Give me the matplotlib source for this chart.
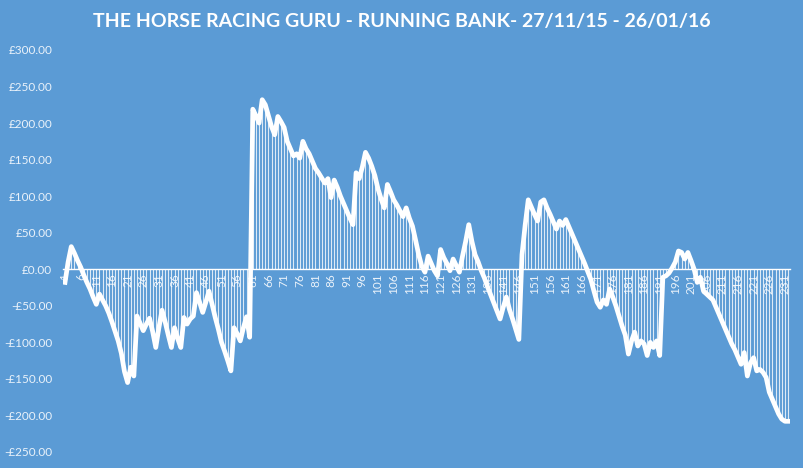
import matplotlib
matplotlib.use("Agg")
import matplotlib.pyplot as plt
import numpy as np

# running bank after each bet (GBP)
bank = [
    -18, 10, 31, 22, 12, 3, -8, -18, -27, -38,
    -48, -34, -42, -50, -60, -72, -85, -98, -115, -140,
    -155, -134, -146, -64, -74, -84, -75, -67, -85, -107,
    -80, -56, -72, -90, -107, -80, -95, -107, -66, -75,
    -68, -64, -32, -45, -59, -45, -30, -48, -66, -82,
    -100, -112, -125, -139, -80, -88, -98, -80, -65, -93,
    219, 210, 200, 232, 225, 210, 195, 184, 209, 202,
    194, 175, 165, 155, 158, 152, 175, 165, 158, 148,
    138, 132, 125, 118, 124, 98, 122, 112, 100, 90,
    80, 70, 61, 132, 124, 140, 160, 152, 141, 128,
    110, 96, 84, 116, 106, 95, 88, 80, 72, 84,
    70, 59, 40, 20, 4, -4, 18, 8, -2, -9,
    27, 16, 8, -2, 14, 5, -4, 18, 38, 61,
    38, 20, 10, -2, -12, -24, -35, -46, -57, -68,
    -52, -38, -55, -68, -82, -96, 20, 60, 95, 85,
    75, 66, 92, 95, 84, 75, 65, 55, 66, 60,
    68, 58, 48, 38, 28, 18, 8, -3, -14, -30,
    -45, -52, -42, -48, -27, -38, -50, -64, -78, -90,
    -116, -98, -86, -105, -98, -102, -118, -100, -107, -98,
    -118, -11, -9, -5, 2, 10, 25, 23, 14, 23,
    12, 0, -18, -11, -30, -34, -38, -42, -52, -62,
    -72, -82, -92, -102, -110, -120, -130, -114, -146, -128,
    -121, -139, -137, -141, -148, -168, -178, -188, -198, -205,
    -208, -208,
]
bets = np.arange(1, len(bank) + 1)

yticks = [300, 250, 200, 150, 100, 50, 0, -50, -100, -150, -200, -250]
bg = "#5B9BD5"
txt = "#EAF2FA"

plt.rcParams["font.family"] = ["Lato", "DejaVu Sans"]

fig = plt.figure(figsize=(8.04, 4.68), dpi=100, facecolor=bg)
ax = fig.add_axes([0.0789, 0.0342, 0.9032, 0.859])
ax.set_facecolor(bg)

for s in ["top", "right", "left"]:
    ax.spines[s].set_visible(False)
ax.spines["bottom"].set_position(("data", 0))
ax.spines["bottom"].set_color("white")
ax.spines["bottom"].set_linewidth(1.0)
ax.spines["bottom"].set_zorder(3)

ax.vlines(bets, 0, bank, color="white", lw=0.8, alpha=0.8, zorder=2)
ax.plot(bets, bank, color="white", lw=3.4, solid_joinstyle="round", zorder=4)

ax.set_xlim(0.5, len(bank) + 0.5)
ax.set_ylim(-250, 300)
ax.set_yticks(yticks)
ax.set_yticklabels([("-£%.2f" % -v) if v < 0 else ("£%.2f" % v) for v in yticks])
ax.set_xticks(bets[::5])
ax.set_xticklabels([str(b) for b in bets[::5]])
ax.tick_params(axis="x", length=0, pad=3, labelsize=8.5, labelcolor=txt, labelrotation=90)
ax.tick_params(axis="y", length=0, pad=8, labelsize=8.5, labelcolor=txt)

fig.text(0.5, 0.953, "THE HORSE RACING GURU - RUNNING BANK- 27/11/15 - 26/01/16",
         ha="center", va="center", color="white", fontsize=14, fontweight="bold")

fig.savefig("out.png", dpi=100, facecolor=bg)
